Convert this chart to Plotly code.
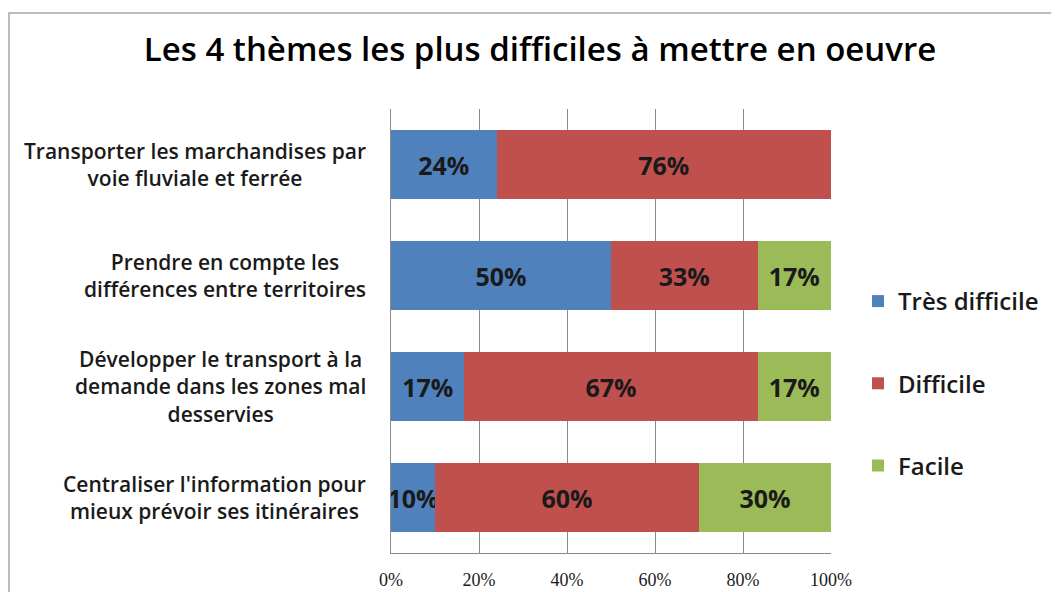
import plotly.graph_objects as go

categories = [
    "Transporter les marchandises par<br>voie fluviale et ferrée",
    "Prendre en compte les<br>différences entre territoires",
    "Développer le transport à la<br>demande dans les zones mal<br>desservies",
    "Centraliser l'information pour<br>mieux prévoir ses itinéraires",
]
tres_difficile = [24, 50, 16.7, 10]
difficile = [76, 33.3, 66.6, 60]
facile = [None, 16.7, 16.7, 30]
series_names = ["Très difficile", "Difficile", "Facile"]
colors = ["#4F81BD", "#C0504D", "#9BBB59"]
tick_vals = [0, 20, 40, 60, 80, 100]
tick_text = ["0%", "20%", "40%", "60%", "80%", "100%"]
title_text = "Les 4 thèmes les plus difficiles à mettre en oeuvre"

# page body has an 8px margin; work in figure coordinates
OFF = 8
W, H = 1059 - OFF, 592 - OFF
L = 391 - OFF
R = W - (831 - OFF)
T = 109 - OFF
B = H - (553 - OFF)
FONT = "Open Sans"

def px_x(px):
    return (px - OFF - L) / (W - L - R)

def px_y(py):
    return (H - B - (py - OFF)) / (H - T - B)

fig = go.Figure()
for name, vals, col in zip(series_names, [tres_difficile, difficile, facile], colors):
    fig.add_trace(go.Bar(
        y=list(range(len(categories))), x=vals, orientation="h", name=name,
        marker=dict(color=col, line=dict(width=0)),
        texttemplate="%{x:.0f}%", textposition="inside", insidetextanchor="middle",
        textangle=0, constraintext="none",
        textfont=dict(family=FONT, size=25, color="#1a1a1a", weight=700),
        legendgroup=name, width=0.63,
    ))

for i, c in enumerate(categories):
    fig.add_annotation(
        x=px_x(368), xref="paper", y=i, yref="y", text=c, showarrow=False,
        xanchor="right", yanchor="middle", align="center",
        font=dict(family=FONT, size=21, color="#1a1a1a", weight=600),
    )

fig.add_shape(type="rect", xref="paper", yref="paper",
              x0=px_x(OFF + 1), x1=px_x(1075), y0=px_y(13), y1=px_y(620),
              line=dict(color="#a6a6a6", width=1.5), fillcolor="rgba(0,0,0,0)")

fig.update_layout(
    width=W, height=H, barmode="stack",
    margin=dict(l=L, r=R, t=T, b=B, autoexpand=False),
    paper_bgcolor="white", plot_bgcolor="white",
    title=dict(text=title_text, x=(540 - OFF) / W, xanchor="center",
               y=1 - (49 - OFF) / H, yanchor="middle",
               xref="container", yref="container",
               font=dict(family=FONT, size=33, color="#000000", weight=600)),
    xaxis=dict(range=[0, 100], tickvals=tick_vals, ticktext=tick_text,
               showgrid=True, gridcolor="#8c8c8c", gridwidth=1,
               showline=True, linecolor="#8c8c8c", linewidth=1,
               ticks="", ticklabelstandoff=10, zeroline=False,
               tickfont=dict(family="Liberation Serif", size=18, color="#1a1a1a")),
    yaxis=dict(range=[3.5, -0.5], showticklabels=False, showgrid=False,
               showline=True, linecolor="#8c8c8c", linewidth=1, ticks="", zeroline=False),
    legend=dict(x=px_x(858), xanchor="left", y=px_y(279), yanchor="top",
                traceorder="grouped", tracegroupgap=48,
                font=dict(family=FONT, size=24, color="#1a1a1a", weight=600),
                itemclick=False),
    showlegend=True,
)

fig.write_html("out.html")
